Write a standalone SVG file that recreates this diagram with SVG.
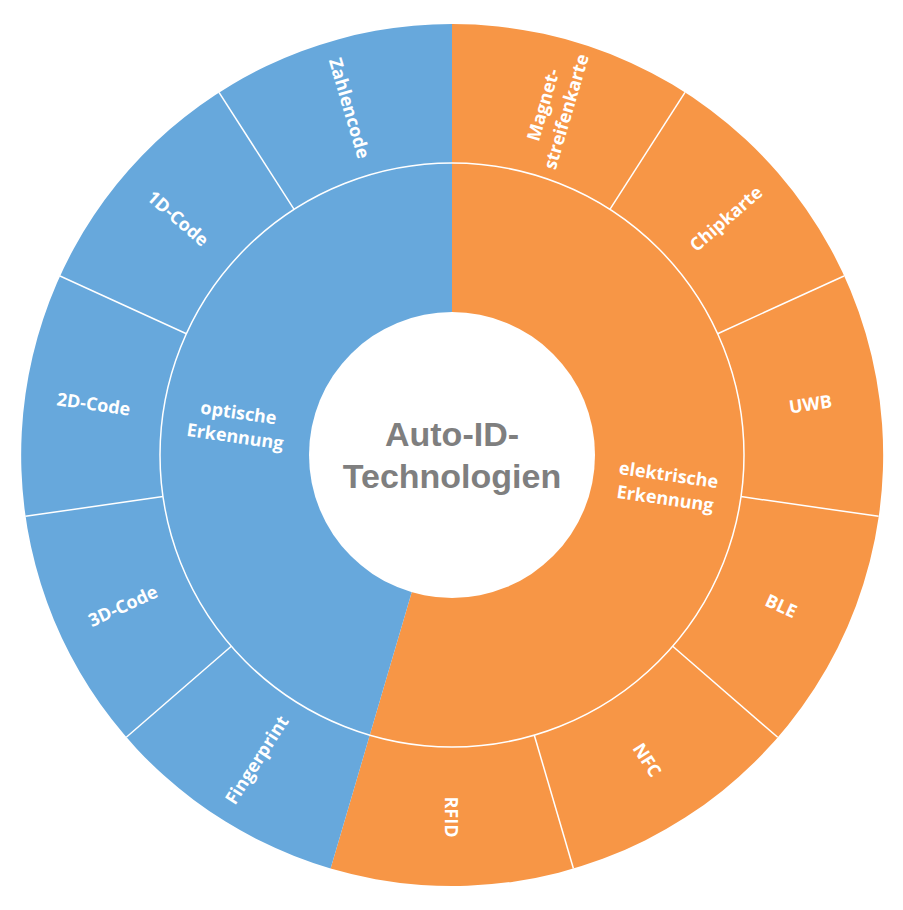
<svg xmlns="http://www.w3.org/2000/svg" width="903" height="910" viewBox="0 0 903 910">
<style>
.l{font-family:"Open Sans","Liberation Sans",sans-serif;font-weight:bold;font-size:18px;fill:#fff;text-anchor:middle;dominant-baseline:central}
.sep{stroke:#fff;stroke-width:1.5;fill:none}
</style>
<rect width="903" height="910" fill="#fff"/>
<g id="ring">
<path d="M452,455 L452,24 A431,431 0 1 1 330.6,868.5 Z" fill="#F79646"/>
<path d="M452,455 L330.6,868.5 A431,431 0 0 1 452,24 Z" fill="#67A8DC"/>
</g>
<g id="connectors">
<circle class="sep" cx="452" cy="455" r="292"/>
<line class="sep" x1="609.9" y1="209.3" x2="685" y2="92.4"/>
<line class="sep" x1="717.6" y1="333.7" x2="844" y2="276"/>
<line class="sep" x1="741" y1="496.6" x2="878.6" y2="516.3"/>
<line class="sep" x1="672.7" y1="646.2" x2="777.7" y2="737.3"/>
<line class="sep" x1="534.3" y1="735.2" x2="573.4" y2="868.5"/>
<line class="sep" x1="231.3" y1="646.2" x2="126.3" y2="737.3"/>
<line class="sep" x1="163" y1="496.6" x2="25.4" y2="516.3"/>
<line class="sep" x1="186.4" y1="333.7" x2="60" y2="276"/>
<line class="sep" x1="294.1" y1="209.3" x2="219" y2="92.4"/>
</g>
<g id="center">
<circle cx="452" cy="455" r="143" fill="#fff"/>
<text font-family="Liberation Sans,sans-serif" font-weight="bold" font-size="34" fill="#7F7F7F" text-anchor="middle"><tspan x="452" y="446">Auto-ID-</tspan><tspan x="452" y="488">Technologien</tspan></text>
</g>
<g id="inner-labels">
<text class="l" transform="translate(237,424) rotate(8.2)"><tspan x="0" dy="-12">optische</tspan><tspan x="0" dy="24">Erkennung</tspan></text>
<text class="l" transform="translate(667,486) rotate(8.2)"><tspan x="0" dy="-12">elektrische</tspan><tspan x="0" dy="24">Erkennung</tspan></text>
</g>
<g id="outer-labels">
<text class="l" transform="translate(554,108) rotate(-73.6)"><tspan x="0" dy="-12">Magnet-</tspan><tspan x="0" dy="24">streifenkarte</tspan></text>
<text class="l" transform="translate(725.6,218) rotate(-40.9)">Chipkarte</text>
<text class="l" transform="translate(810.3,403.5) rotate(-8.2)">UWB</text>
<text class="l" transform="translate(781.3,605.4) rotate(24.5)">BLE</text>
<text class="l" transform="translate(647.7,759.5) rotate(57.3)">NFC</text>
<text class="l" transform="translate(452,817) rotate(90)">RFID</text>
<text class="l" transform="translate(256.3,759.5) rotate(-57.3)">Fingerprint</text>
<text class="l" transform="translate(122.7,605.4) rotate(-24.5)">3D-Code</text>
<text class="l" transform="translate(93.7,403.5) rotate(8.2)">2D-Code</text>
<text class="l" transform="translate(178.4,218) rotate(40.9)">1D-Code</text>
<text class="l" transform="translate(350,108) rotate(73.6)">Zahlencode</text>
</g>
</svg>
